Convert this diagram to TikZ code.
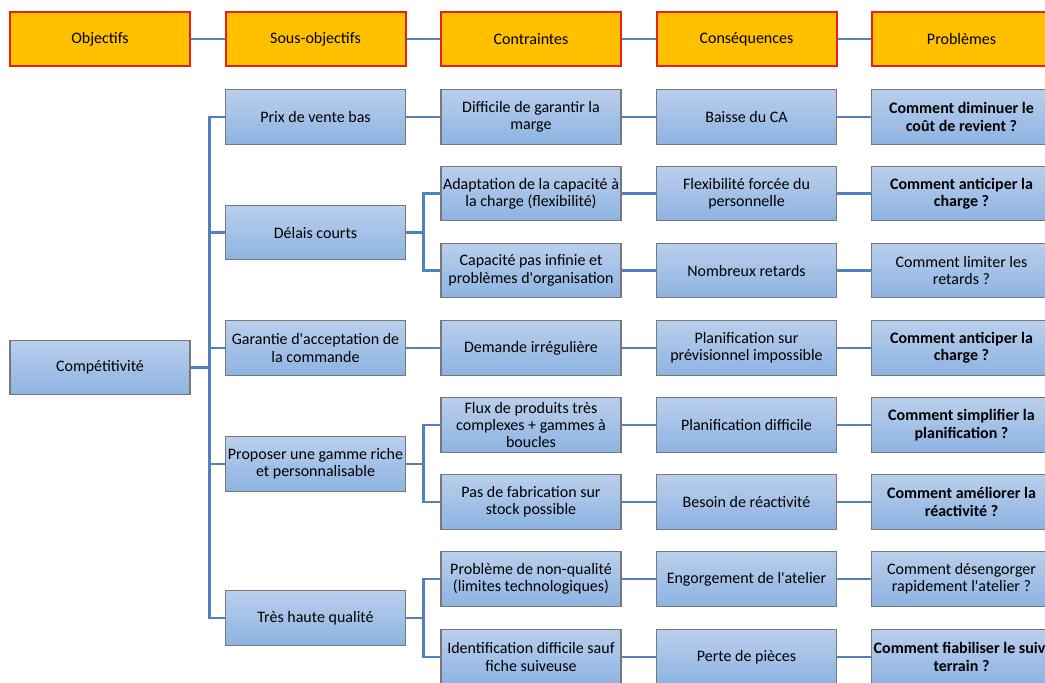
\documentclass[tikz,border=0pt]{standalone}
\usepackage{fontspec}
\setmainfont{Carlito}
\usepackage{tikz}

\definecolor{orangeent}{RGB}{255,192,0}
\definecolor{rougeent}{RGB}{235,30,30}
\definecolor{lienbleu}{RGB}{79,129,189}
\definecolor{bleuhaut}{RGB}{186,207,236}
\definecolor{bleubas}{RGB}{141,179,226}
\definecolor{bordgris}{RGB}{120,120,120}

\newcommand{\apo}{\textquotesingle}

\begin{document}
\begin{tikzpicture}[x=0.75pt, y=-0.75pt,
        entete/.style={draw=rougeent, line width=1.5pt, fill=orangeent,
            minimum width=135pt, minimum height=41pt, inner sep=0pt,
            font=\fontsize{12}{13}\selectfont},
        boite/.style={draw=bordgris, line width=0.9pt, top color=bleuhaut, bottom color=bleubas,
            minimum width=135pt, minimum height=41pt, inner sep=1pt, align=center,
            font=\fontsize{12}{13}\selectfont},
        gras/.style={boite, font=\fontsize{12}{13}\selectfont\bfseries},
        lien/.style={draw=lienbleu, line width=2.2pt}]
            \useasboundingbox (0,0) rectangle (1045,682);

            %% en-tetes
            \node [entete] (obj) at (100,39) {Objectifs};
            \node [entete] (sousobj) at (315.5,39) {Sous-objectifs};
            \node [entete] (contr) at (531,39) {Contraintes};
            \node [entete] (consq) at (746.5,39) {Conséquences};
            \node [entete] (probl) at (961.5,39) {Problèmes};

            %% objectif et sous-objectifs
            \node [boite] (comp) at (100,367.5) {Compétitivité};
            \node [boite] (prix) at (315.5,117) {Prix de vente bas};
            \node [boite] (delais) at (315.5,232.5) {Délais courts};
            \node [boite] (garantie) at (315.5,348) {Garantie d\apo acceptation de\\la commande};
            \node [boite] (gamme) at (315.5,464) {Proposer une gamme riche\\et personnalisable};
            \node [boite] (qualite) at (315.5,618) {Très haute qualité};

            %% contraintes
            \node [boite] (diff) at (531,117) {Difficile de garantir la\\marge};
            \node [boite] (adapt) at (531,193.5) {Adaptation de la capacité à\\la charge (flexibilité)};
            \node [boite] (capa) at (531,270.5) {Capacité pas infinie et\\problèmes d\apo organisation};
            \node [boite] (demande) at (531,348) {Demande irrégulière};
            \node [boite] (flux) at (531,425) {Flux de produits très\\complexes + gammes à\\boucles};
            \node [boite] (stock) at (531,502) {Pas de fabrication sur\\stock possible};
            \node [boite] (nonqual) at (531,579) {Problème de non-qualité\\(limites technologiques)};
            \node [boite] (ident) at (531,657) {Identification difficile sauf\\fiche suiveuse};

            %% consequences
            \node [boite] (baisse) at (746.5,117) {Baisse du CA};
            \node [boite] (flexi) at (746.5,193.5) {Flexibilité forcée du\\personnelle};
            \node [boite] (retards) at (746.5,270.5) {Nombreux retards};
            \node [boite] (planprev) at (746.5,348) {Planification sur\\prévisionnel impossible};
            \node [boite] (plandiff) at (746.5,425) {Planification difficile};
            \node [boite] (reactiv) at (746.5,502) {Besoin de réactivité};
            \node [boite] (engorg) at (746.5,579) {Engorgement de l\apo atelier};
            \node [boite] (perte) at (746.5,657) {Perte de pièces};

            %% problemes
            \node [gras] (pcout) at (961.5,117) {Comment diminuer le\\coût de revient ?};
            \node [gras] (pcharge) at (961.5,193.5) {Comment anticiper la\\charge ?};
            \node [boite] (pretard) at (961.5,270.5) {Comment limiter les\\retards ?};
            \node [gras] (pcharge2) at (961.5,348) {Comment anticiper la\\charge ?};
            \node [gras] (pplanif) at (961.5,425) {Comment simplifier la\\planification ?};
            \node [gras] (preact) at (961.5,502) {Comment améliorer la\\réactivité ?};
            \node [boite] (pengorg) at (961.5,579) {Comment désengorger\\rapidement l\apo atelier ?};
            \node [gras] (psuivi) at (961.5,657) {Comment fiabiliser le suivi\\terrain ?};

            %% liens
            \draw [lien] (obj.east) -- (sousobj.west);
            \draw [lien] (sousobj.east) -- (contr.west);
            \draw [lien] (contr.east) -- (consq.west);
            \draw [lien] (consq.east) -- (probl.west);

            \foreach \n in {prix,delais,garantie,gamme,qualite}
                \draw [lien] (comp.east) -- ++(19,0) |- (\n.west);

            \draw [lien] (delais.east) -- ++(17,0) |- (adapt.west);
            \draw [lien] (delais.east) -- ++(17,0) |- (capa.west);
            \draw [lien] (gamme.east) -- ++(17,0) |- (flux.west);
            \draw [lien] (gamme.east) -- ++(17,0) |- (stock.west);
            \draw [lien] (qualite.east) -- ++(17,0) |- (nonqual.west);
            \draw [lien] (qualite.east) -- ++(17,0) |- (ident.west);
            \draw [lien] (prix.east) -- (diff.west);
            \draw [lien] (garantie.east) -- (demande.west);

            \draw [lien] (diff.east) -- (baisse.west);
            \draw [lien] (adapt.east) -- (flexi.west);
            \draw [lien] (capa.east) -- (retards.west);
            \draw [lien] (demande.east) -- (planprev.west);
            \draw [lien] (flux.east) -- (plandiff.west);
            \draw [lien] (stock.east) -- (reactiv.west);
            \draw [lien] (nonqual.east) -- (engorg.west);
            \draw [lien] (ident.east) -- (perte.west);

            \draw [lien] (baisse.east) -- (pcout.west);
            \draw [lien] (flexi.east) -- (pcharge.west);
            \draw [lien] (retards.east) -- (pretard.west);
            \draw [lien] (planprev.east) -- (pcharge2.west);
            \draw [lien] (plandiff.east) -- (pplanif.west);
            \draw [lien] (reactiv.east) -- (preact.west);
            \draw [lien] (engorg.east) -- (pengorg.west);
            \draw [lien] (perte.east) -- (psuivi.west);
        \end{tikzpicture}
\end{document}
